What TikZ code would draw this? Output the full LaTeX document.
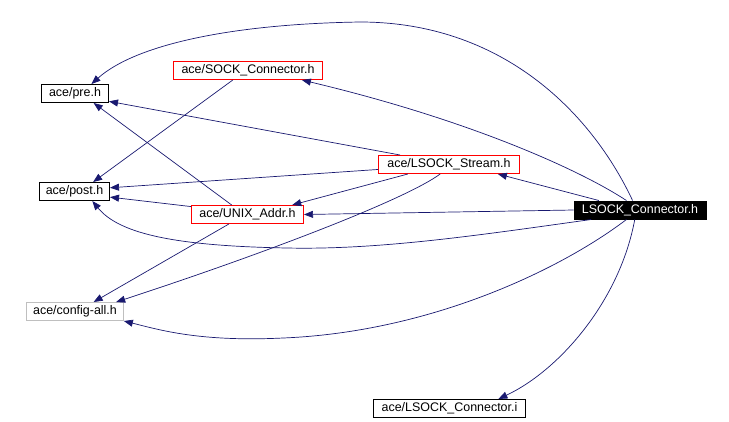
\documentclass[tikz,border=0pt]{standalone}
\usepackage{fontspec}
\setmainfont{Liberation Sans}
\usepackage{tikz}
\usetikzlibrary{arrows.meta}
\definecolor{DoxEdge}{HTML}{191970}
\definecolor{DoxRed}{HTML}{FF0000}
\definecolor{DoxGray}{HTML}{BFBFBF}

\begin{document}
\begin{tikzpicture}[
  x=1bp, y=-1bp,
  every node/.style={font=\fontsize{12.5}{14}\selectfont},
  file/.style={rectangle, draw=black, minimum height=18bp, inner xsep=2bp, inner ysep=0pt, line width=1bp},
  redfile/.style={file, draw=DoxRed},
  grayfile/.style={file, draw=DoxGray},
  mainfile/.style={file, fill=black, text=white},
  edge/.style={-{Triangle[length=9bp, width=7bp]}, draw=DoxEdge, line width=0.7bp}
]
\useasboundingbox (0,0) rectangle (729,421);

%% include files, left column
\node[file, minimum width=67bp] (pre) at (75, 93.5) {ace/pre.h};
\node[file, minimum width=70bp] (post) at (74.5, 191.5) {ace/post.h};
\node[grayfile, minimum width=97bp] (configall) at (75, 311.5) {ace/config-all.h};

%% middle
\node[redfile, minimum width=149bp] (sockconn) at (248, 70.5) {ace/SOCK\_Connector.h};
\node[redfile, minimum width=112bp] (unixaddr) at (247.5, 214.5) {ace/UNIX\_Addr.h};
\node[redfile, minimum width=141bp] (lstream) at (449, 164.5) {ace/LSOCK\_Stream.h};
\node[file, minimum width=152bp] (lconni) at (449.5, 408.5) {ace/LSOCK\_Connector.i};

%% the file itself
\node[mainfile, minimum width=132bp] (lconnh) at (640, 210) {LSOCK\_Connector.h};

%% curved edges
\draw[edge] (lconnh.128) .. controls (590,110) and (500,22) .. (360,22) .. controls (230,24) and (135,45) .. (pre.30);
\draw[edge] (lconnh.145) .. controls (580,170) and (470,120) .. (sockconn.-10);
\draw[edge] (lconnh.191) .. controls (480,235) and (380,250) .. (287,248) .. controls (180,246) and (120,235) .. (post.-28);
\draw[edge] (lconnh.215) .. controls (560,270) and (430,332) .. (283,338) .. controls (200,342) and (160,330) .. (configall.-11);
\draw[edge] (lconnh.241) .. controls (620,300) and (560,370) .. (lconni.11);
\draw[edge] (lstream.227) .. controls (405,200) and (260,255) .. (configall.13);

%% straight edges
\foreach \from/\to in {lconnh.west/unixaddr.east, lconnh.167/lstream.-11,
    lstream.169/pre.-13, lstream.-176/post.6, lstream.193/unixaddr.12,
    unixaddr.149/pre.-27, unixaddr.172/post.-9, unixaddr.207/configall.27,
    sockconn.212/post.27}
  \draw[edge] (\from) -- (\to);
\end{tikzpicture}
\end{document}
